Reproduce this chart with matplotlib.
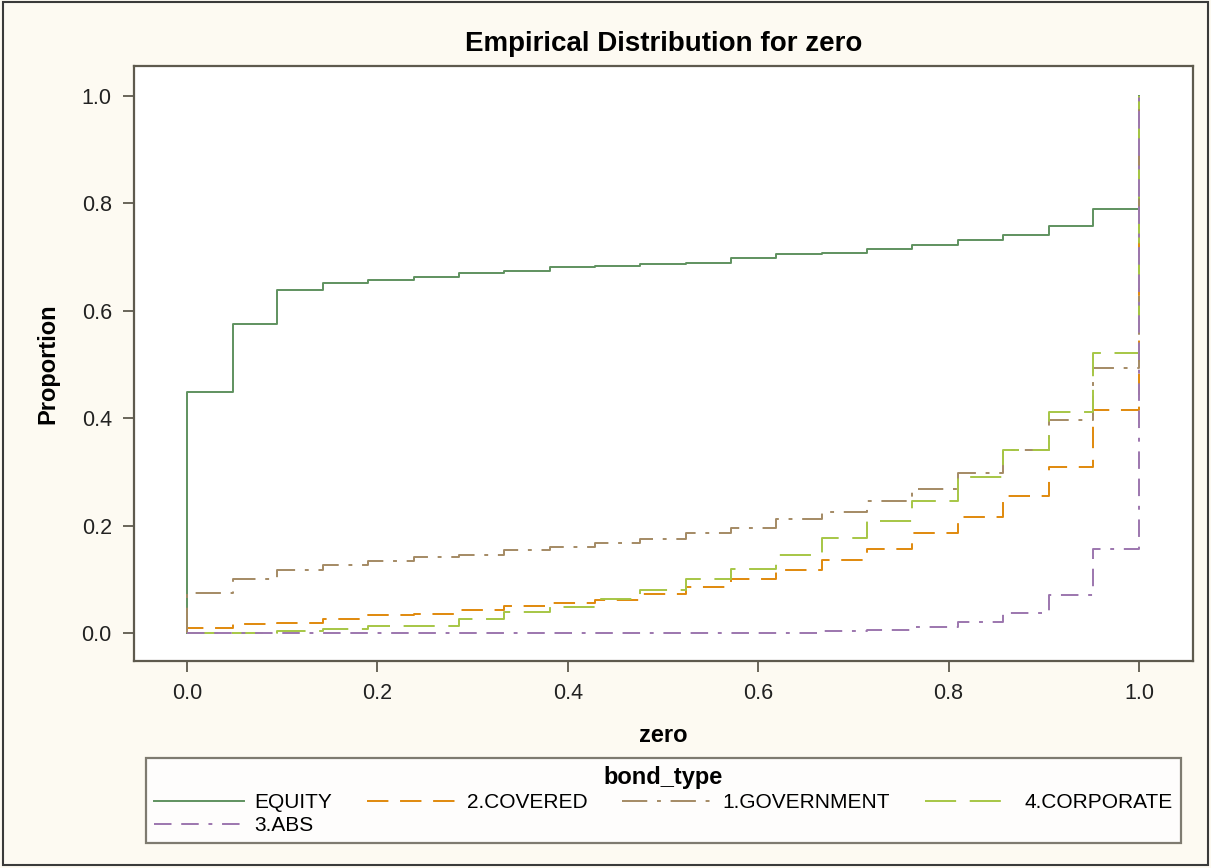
import matplotlib
matplotlib.use('Agg')
import matplotlib.pyplot as plt
from matplotlib.patches import Rectangle

plt.rcParams['font.family'] = ['Liberation Sans', 'DejaVu Sans']

# step positions of the empirical distribution (value of zero)
zero_steps = [0.000, 0.048, 0.095, 0.143, 0.190, 0.238, 0.286, 0.333, 0.381, 0.429, 0.476,
              0.524, 0.571, 0.619, 0.667, 0.714, 0.762, 0.810, 0.857, 0.905, 0.952]

# cumulative proportion on each step, per bond type (all reach 1.0 at zero = 1)
equity = [0.448, 0.575, 0.638, 0.651, 0.658, 0.664, 0.671, 0.675, 0.681, 0.684, 0.688,
          0.690, 0.698, 0.705, 0.707, 0.715, 0.722, 0.732, 0.742, 0.758, 0.789]
covered = [0.009, 0.016, 0.019, 0.026, 0.033, 0.036, 0.043, 0.050, 0.056, 0.062, 0.073,
           0.085, 0.100, 0.117, 0.137, 0.157, 0.186, 0.216, 0.256, 0.310, 0.416]
government = [0.074, 0.100, 0.117, 0.126, 0.134, 0.141, 0.146, 0.154, 0.160, 0.167, 0.176,
              0.186, 0.196, 0.213, 0.226, 0.246, 0.268, 0.299, 0.340, 0.396, 0.493]
corporate = [0.000, 0.000, 0.004, 0.007, 0.014, 0.014, 0.026, 0.039, 0.048, 0.064, 0.080,
             0.100, 0.120, 0.146, 0.177, 0.209, 0.246, 0.290, 0.341, 0.412, 0.522]
abs_ = [0.000, 0.000, 0.000, 0.000, 0.000, 0.000, 0.000, 0.000, 0.000, 0.000, 0.000,
        0.000, 0.000, 0.001, 0.003, 0.005, 0.012, 0.020, 0.037, 0.070, 0.157]

series = [
    ('EQUITY', equity, '#5f925f', '-'),
    ('2.COVERED', covered, '#e0890c', (0, (11, 6))),
    ('1.GOVERNMENT', government, '#a48a64', (0, (13, 5, 2, 5))),
    ('4.CORPORATE', corporate, '#a6c645', (0, (16, 7))),
    ('3.ABS', abs_, '#9c76ae', (0, (9, 5, 9, 5, 2, 5))),
]

bg = '#fdfaf2'
frame = '#5e5a4e'

fig = plt.figure(figsize=(12.11, 8.68), dpi=100, facecolor=bg)
ax = fig.add_axes([134 / 1211, 1 - 661 / 868, (1193 - 134) / 1211, (661 - 66) / 868])
ax.set_facecolor('white')

handles = []
for name, vals, color, ls in series:
    xs = [0.0] + zero_steps + [1.0]
    ys = [0.0] + vals + [1.0]
    line, = ax.plot(xs, ys, drawstyle='steps-post', color=color, linestyle=ls, lw=1.4, label=name)
    handles.append(line)

ax.set_xlim(-0.0557, 1.0567)
ax.set_ylim(-0.052, 1.056)
ax.set_xticks([0.0, 0.2, 0.4, 0.6, 0.8, 1.0])
ax.set_yticks([0.0, 0.2, 0.4, 0.6, 0.8, 1.0])
ax.set_xticklabels(['0.0', '0.2', '0.4', '0.6', '0.8', '1.0'])
ax.set_yticklabels(['0.0', '0.2', '0.4', '0.6', '0.8', '1.0'])
ax.tick_params(direction='out', length=8, width=1.3, color=frame, labelsize=15.5,
               labelcolor='#222222', pad=8)
for sp in ax.spines.values():
    sp.set_color(frame)
    sp.set_linewidth(1.6)

ax.set_title('Empirical Distribution for zero', fontsize=20, fontweight='bold', pad=11)
ax.set_xlabel('zero', fontsize=17, fontweight='bold', labelpad=14)
ax.set_ylabel('Proportion', fontsize=17, fontweight='bold', labelpad=16)

# legend rows: EQUITY, COVERED, GOVERNMENT, CORPORATE / ABS (column-major order)
order = [0, 4, 1, 2, 3]
leg = fig.legend([handles[i] for i in order], [series[i][0] for i in order],
                 loc='upper center', bbox_to_anchor=((145 + 1182) / 2 / 1211, 1 - 758 / 868),
                 borderaxespad=0, ncol=4, title='bond_type', fontsize=15,
                 title_fontproperties={'weight': 'bold', 'size': 17},
                 frameon=True, fancybox=False, facecolor='white', edgecolor=frame,
                 handlelength=4.3, handletextpad=0.5, columnspacing=1.68,
                 borderpad=0.38, labelspacing=0.2, alignment='center')
leg.get_frame().set_linewidth(1.6)

fig.patches.append(Rectangle((3 / 1211, 3 / 868), 1205 / 1211, 863 / 868,
                             transform=fig.transFigure, fill=False,
                             edgecolor='#3a3a3a', lw=1.5))

fig.savefig('out.png', dpi=100, facecolor=bg)
